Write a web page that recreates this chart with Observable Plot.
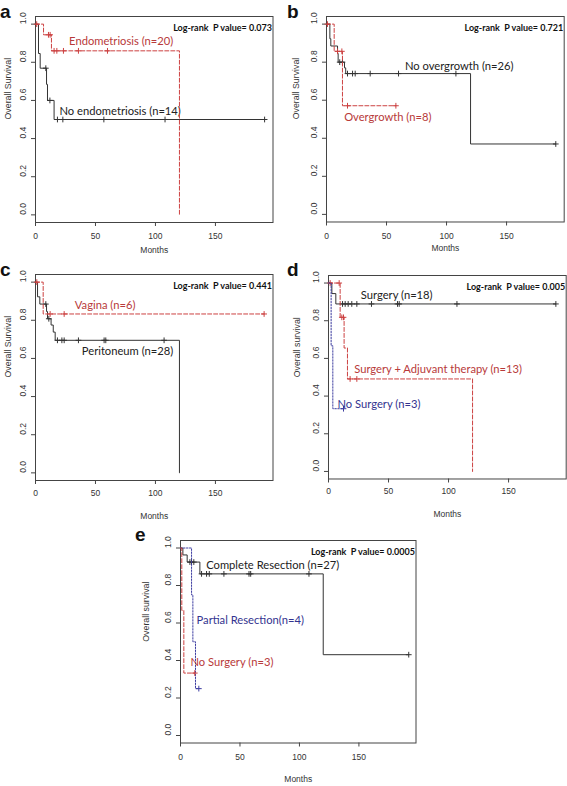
<!DOCTYPE html>
<html>
<head>
<meta charset="utf-8">
<script src="https://cdn.jsdelivr.net/npm/d3@7"></script>
<script src="https://cdn.jsdelivr.net/npm/@observablehq/plot@0.6"></script>
<style>
html, body { margin: 0; padding: 0; background: #fff; overflow: hidden; }
#wrap { position: relative; width: 567px; height: 786px; overflow: hidden; }
.letter { position: absolute; font: bold 19px "Liberation Sans", Arial, sans-serif; line-height: 15px; color: #111; }
</style>
</head>
<body>
<div id="wrap"></div>
<script>
// ---------- shared axis ticks ----------
const xTicks = [0, 50, 100, 150];
const yTicks = [0, 0.2, 0.4, 0.6, 0.8, 1.0];

// ---------- panel a ----------
const aNoEndoTimes = [2.5, 3.9, 9.2, 10, 15.5];
const aNoEndoSurv  = [0.846, 0.769, 0.684, 0.6, 0.5];
const aNoEndoCens  = [8.6, 12, 18.3, 22.8, 57, 108, 191];
const aEndoTimes = [6.7, 13.3, 120];
const aEndoSurv  = [0.944, 0.86, 0];
const aEndoCens  = [1, 10.8, 12.2, 15.5, 17.8, 23.3, 35.8, 60];

// ---------- panel b ----------
const bNoOverTimes = [2.8, 3.6, 9.2, 9.7, 15, 16, 120];
const bNoOverSurv  = [0.923, 0.885, 0.846, 0.80, 0.77, 0.74, 0.37];
const bNoOverCens  = [11, 13.3, 17.5, 21.7, 23.9, 36.4, 60, 107.8, 191];
const bOverTimes = [6.4, 13.3];
const bOverSurv  = [0.857, 0.571];
const bOverCens  = [0.8, 9.2, 12.8, 17.5, 57.8];

// ---------- panel c ----------
const cPeriTimes = [1.7, 3.6, 9.2, 10, 13, 14.8, 16.4, 120];
const cPeriSurv  = [0.923, 0.885, 0.846, 0.808, 0.775, 0.738, 0.695, 0];
const cPeriCens  = [8.6, 11.1, 18.3, 22, 23.9, 35.8, 57.2, 58.6, 107.2];
const cVagTimes = [6.4];
const cVagSurv  = [0.833];
const cVagCens  = [1.1, 12.2, 23.9, 190.6];

// ---------- panel d ----------
const dSurgTimes = [2.8, 6.1];
const dSurgSurv  = [0.944, 0.889];
const dSurgCens  = [11.7, 13.9, 16.4, 19.4, 23.6, 35.8, 57.5, 58.9, 107, 189.4];
const dAdjTimes = [9.7, 13, 15.8, 120];
const dAdjSurv  = [0.818, 0.655, 0.491, 0];
const dAdjCens  = [1.4, 8.9, 11.1, 12.5, 18, 23.6];
const dNoSurgTimes = [2.2, 3.6];
const dNoSurgSurv  = [0.667, 0.333];
const dNoSurgCens  = [12.5];

// ---------- panel e ----------
const eCompTimes = [2, 5.6, 16.3, 120];
const eCompSurv  = [0.963, 0.925, 0.862, 0.431];
const eCompCens  = [7.9, 9.3, 11.2, 17.7, 21.9, 24.2, 36.5, 57.6, 59, 108, 191.9];
const ePartTimes = [9.3, 10.4, 12.6];
const ePartSurv  = [0.75, 0.5, 0.25];
const ePartCens  = [15.4];
const eNoSurgTimes = [1.1, 2.8];
const eNoSurgSurv  = [0.667, 0.333];
const eNoSurgCens  = [12];

// ---------- styles ----------
const BLACK = {stroke: "#333", text: "#222", dash: null};
const RED   = {stroke: "#cc4040", text: "#b83a3a", dash: "4,2"};
const BLUE  = {stroke: "#3c3ca0", text: "#33338f", dash: "1.5,1.5"};
const tickFont = "'Liberation Sans', Arial, sans-serif";
const annFont = "Lato, 'Open Sans', sans-serif";

function km(times, surv, cens) {
  const end = Math.max(times.length ? times[times.length - 1] : 0, cens.length ? d3.max(cens) : 0);
  const last = surv.length ? surv[surv.length - 1] : 1;
  const pts = [{t: 0, s: 1}];
  times.forEach((t, i) => pts.push({t, s: surv[i]}));
  pts.push({t: end, s: last});
  const sAt = t => { let s = 1; times.forEach((tt, i) => { if (tt <= t) s = surv[i]; }); return s; };
  return {pts, cpts: cens.map(t => ({t, s: sAt(t)}))};
}

const wrap = document.getElementById("wrap");

function panel(cfg) {
  const [fl, fr, ft, fb] = cfg.frame;
  const mL = 45, mR = 4, mT = 4, mB = 52;
  const marks = [
    Plot.frame({stroke: "#444", strokeWidth: 1}),
    Plot.axisX({ticks: xTicks, tickSize: 4, tickFormat: () => "", label: null, stroke: "#444"}),
    Plot.axisY({ticks: yTicks, tickSize: 4, tickFormat: () => "", label: null, stroke: "#444"}),
    Plot.text(xTicks, {x: d => d, frameAnchor: "bottom", dy: cfg.xtDy, text: d => String(d),
      fontSize: 8.5, fontFamily: tickFont, fill: "#333"}),
    Plot.text(yTicks, {y: d => d, frameAnchor: "left", dx: -12, rotate: -90, text: d => d.toFixed(1),
      fontSize: 8.5, fontFamily: tickFont, fill: "#333"}),
    Plot.text([cfg.ylabel], {frameAnchor: "left", dx: cfg.ylDx, rotate: -90, text: d => d,
      fontSize: 8.8, fontFamily: tickFont, fill: "#333"}),
    Plot.text(["Months"], {frameAnchor: "bottom", dy: cfg.mDy, text: d => d,
      fontSize: 8.5, fontFamily: tickFont, fill: "#333"}),
    Plot.text([cfg.pvalue], {frameAnchor: "top-right", dx: -1, dy: 8.5, textAnchor: "end", text: d => d,
      fontSize: 9, fontWeight: "bold", fontFamily: annFont, fill: "#111"})
  ];
  cfg.series.forEach(sr => {
    const {pts, cpts} = km(sr.times, sr.surv, sr.cens);
    marks.push(Plot.line(pts, {x: "t", y: "s", curve: "step-after", stroke: sr.style.stroke,
      strokeWidth: 1, strokeDasharray: sr.style.dash}));
    marks.push(Plot.dot(cpts, {x: "t", y: "s", symbol: "plus", r: 2, stroke: sr.style.stroke, strokeWidth: 1}));
    marks.push(Plot.text([sr.label], {x: sr.lx, y: sr.ly, text: d => d, textAnchor: "start",
      fontSize: 11.2, fontFamily: annFont, fill: sr.style.text}));
  });
  const plot = Plot.plot({
    width: fr - fl + mL + mR, height: fb - ft + mT + mB,
    marginLeft: mL, marginRight: mR, marginTop: mT, marginBottom: mB,
    style: {background: "transparent", overflow: "visible", maxWidth: "none"},
    x: {domain: [0, 198], label: null},
    y: {domain: [-0.04, 1.04], label: null},
    marks
  });
  plot.style.position = "absolute";
  plot.style.left = (fl - mL) + "px";
  plot.style.top = (ft - mT) + "px";
  wrap.appendChild(plot);
  const L = document.createElement("div");
  L.className = "letter";
  L.textContent = cfg.letter;
  L.style.left = cfg.letterPos[0] + "px";
  L.style.top = (cfg.letterPos[1] - 13.7) + "px";
  wrap.appendChild(L);
}

panel({
  letter: "a", letterPos: [0, 18], frame: [35, 272.5, 15.5, 221.5],
  pvalue: "Log-rank  P value= 0.073", ylabel: "Overall Survival", ylDx: -27, xtDy: 16, mDy: 30,
  series: [
    {times: aNoEndoTimes, surv: aNoEndoSurv, cens: aNoEndoCens, style: BLACK, label: "No endometriosis (n=14)", lx: 20, ly: 0.542},
    {times: aEndoTimes, surv: aEndoSurv, cens: aEndoCens, style: RED, label: "Endometriosis (n=20)", lx: 28, ly: 0.907}
  ]
});
panel({
  letter: "b", letterPos: [287, 18], frame: [326.3, 564, 16, 221.5],
  pvalue: "Log-rank  P value= 0.721", ylabel: "Overall Survival", ylDx: -30, xtDy: 17, mDy: 29,
  series: [
    {times: bNoOverTimes, surv: bNoOverSurv, cens: bNoOverCens, style: BLACK, label: "No overgrowth (n=26)", lx: 65.3, ly: 0.779},
    {times: bOverTimes, surv: bOverSurv, cens: bOverCens, style: RED, label: "Overgrowth (n=8)", lx: 14.7, ly: 0.509}
  ]
});
panel({
  letter: "c", letterPos: [0, 276], frame: [35, 272.5, 273.5, 479.5],
  pvalue: "Log-rank  P value= 0.441", ylabel: "Overall Survival", ylDx: -27, xtDy: 15, mDy: 38,
  series: [
    {times: cPeriTimes, surv: cPeriSurv, cens: cPeriCens, style: BLACK, label: "Peritoneum (n=28)", lx: 38.6, ly: 0.638},
    {times: cVagTimes, surv: cVagSurv, cens: cVagCens, style: RED, label: "Vagina (n=6)", lx: 32.8, ly: 0.878}
  ]
});
panel({
  letter: "d", letterPos: [287, 276], frame: [328.3, 566, 275, 478.5],
  pvalue: "Log-rank  P value= 0.005", ylabel: "Overall survival", ylDx: -31, xtDy: 15, mDy: 38.5,
  series: [
    {times: dSurgTimes, surv: dSurgSurv, cens: dSurgCens, style: BLACK, label: "Surgery (n=18)", lx: 26.9, ly: 0.936},
    {times: dAdjTimes, surv: dAdjSurv, cens: dAdjCens, style: RED, label: "Surgery + Adjuvant therapy (n=13)", lx: 21.4, ly: 0.543},
    {times: dNoSurgTimes, surv: dNoSurgSurv, cens: dNoSurgCens, style: BLUE, label: "No Surgery (n=3)", lx: 7.5, ly: 0.356}
  ]
});
panel({
  letter: "e", letterPos: [135, 541], frame: [180, 415.5, 539.5, 742],
  pvalue: "Log-rank  P value= 0.0005", ylabel: "Overall survival", ylDx: -34, xtDy: 17, mDy: 39,
  series: [
    {times: eCompTimes, surv: eCompSurv, cens: eCompCens, style: BLACK, label: "Complete Resection (n=27)", lx: 21.6, ly: 0.907},
    {times: ePartTimes, surv: ePartSurv, cens: ePartCens, style: BLUE, label: "Partial Resection(n=4)", lx: 13.5, ly: 0.6125},
    {times: eNoSurgTimes, surv: eNoSurgSurv, cens: eNoSurgCens, style: RED, label: "No Surgery (n=3)", lx: 8.4, ly: 0.389}
  ]
});
</script>
</body>
</html>
